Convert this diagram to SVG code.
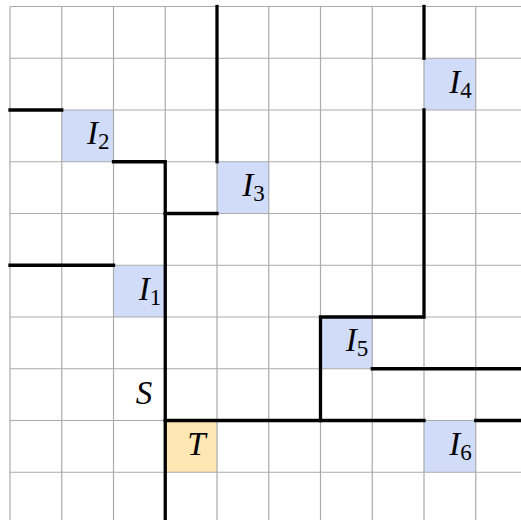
<svg xmlns="http://www.w3.org/2000/svg" width="521" height="520" viewBox="0 0 521 520">
<style>
.blue{fill:#d0dcfa}
.orange{fill:#ffe6b3}
.grid{stroke:#ababab;stroke-width:1.2;fill:none}
.wall{stroke:#000;stroke-width:3.3;fill:none;stroke-linecap:square;stroke-linejoin:miter}
.lbl{font-family:"Liberation Serif","DejaVu Serif",serif;font-style:italic;font-size:33px;fill:#000}
.sub{font-style:normal;font-size:23px}
</style>
<rect width="521" height="520" fill="#fff"/>
<g id="cells">
<rect id="c-I2" class="blue" x="61.75" y="110" width="51.75" height="51.75"/>
<rect id="c-I4" class="blue" x="424" y="58.25" width="51.75" height="51.75"/>
<rect id="c-I3" class="blue" x="217" y="161.75" width="51.75" height="51.75"/>
<rect id="c-I1" class="blue" x="113.5" y="265.25" width="51.75" height="51.75"/>
<rect id="c-I5" class="blue" x="320.5" y="317" width="51.75" height="51.75"/>
<rect id="c-I6" class="blue" x="424" y="420.5" width="51.75" height="51.75"/>
<rect id="c-T" class="orange" x="165.25" y="420.5" width="51.75" height="51.75"/>
</g>
<g id="grid" class="grid">
<path d="M10,6.5V520M61.75,6.5V520M113.5,6.5V520M165.25,6.5V520M217,6.5V520M268.75,6.5V520M320.5,6.5V520M372.25,6.5V520M424,6.5V520M475.75,6.5V520"/>
<path d="M10,6.5H521M10,58.25H521M10,110H521M10,161.75H521M10,213.5H521M10,265.25H521M10,317H521M10,368.75H521M10,420.5H521M10,472.25H521"/>
</g>
<g id="walls" class="wall">
<path d="M10,110H61.75"/>
<path d="M113.5,161.75H165.25V520"/>
<path d="M217,6.5V161.75"/>
<path d="M165.25,213.5H217"/>
<path d="M10,265.25H113.5"/>
<path d="M424,6.5V58.25"/>
<path d="M424,110V317H320.5V420.5"/>
<path d="M372.25,368.75H522"/>
<path d="M165.25,420.5H424"/>
<path d="M475.75,420.5H522"/>
</g>
<g id="node-I2"><text class="lbl" x="109.5" y="144" text-anchor="end">I<tspan class="sub" dy="5">2</tspan></text></g>
<g id="node-I4"><text class="lbl" x="471.75" y="92.5" text-anchor="end">I<tspan class="sub" dy="5">4</tspan></text></g>
<g id="node-I3"><text class="lbl" x="264.75" y="196" text-anchor="end">I<tspan class="sub" dy="5">3</tspan></text></g>
<g id="node-I1"><text class="lbl" x="161.25" y="299.5" text-anchor="end">I<tspan class="sub" dy="5">1</tspan></text></g>
<g id="node-I5"><text class="lbl" x="368.25" y="351" text-anchor="end">I<tspan class="sub" dy="5">5</tspan></text></g>
<g id="node-I6"><text class="lbl" x="471.75" y="455" text-anchor="end">I<tspan class="sub" dy="5">6</tspan></text></g>
<g id="node-S"><text class="lbl" x="144" y="404" text-anchor="middle">S</text></g>
<g id="node-T"><text class="lbl" x="196.5" y="455" text-anchor="middle">T</text></g>
</svg>
